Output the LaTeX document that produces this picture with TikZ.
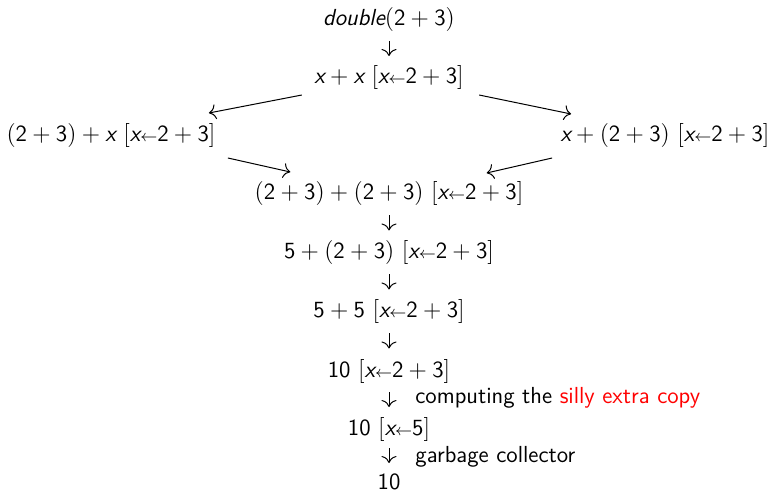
\documentclass[tikz,border=0pt]{standalone}
\usepackage{fontspec}
\usetikzlibrary{calc,arrows.meta}
\def\X{\mbox{\itshape x}}
\def\Sp{\ }
\def\Asg#1{\mathsf{[}\X{\scriptstyle\leftarrow}#1\mathsf{]}}
\def\Tf{\mathsf{(2}+\mathsf{3)}}
\begin{document}
\begin{tikzpicture}[x=0.5pt,y=-0.5pt,
  every node/.style={inner sep=0pt, font=\fontsize{11.6}{13.8}\selectfont\sffamily},
  term/.style={anchor=base},
  lab/.style={anchor=base west},
  arr/.style={-{To[width=7.5pt,length=3.5pt]}, line width=0.5pt}]
\useasboundingbox (0,0) rectangle (770,491);
\node[term] (d)  at (389,26)  {$\mbox{\itshape double}\Tf$};
\node[term] (xx) at (389,84)  {$\X+\X\Sp\Asg{\mathsf{2}+\mathsf{3}}$};
\node[term] (l)  at (111,142) {$\Tf+\X\Sp\Asg{\mathsf{2}+\mathsf{3}}$};
\node[term] (r)  at (665,142) {$\X+\Tf\Sp\Asg{\mathsf{2}+\mathsf{3}}$};
\node[term] (m)  at (389,200) {$\Tf+\Tf\Sp\Asg{\mathsf{2}+\mathsf{3}}$};
\node[term] (f1) at (389,259) {$\mathsf{5}+\Tf\Sp\Asg{\mathsf{2}+\mathsf{3}}$};
\node[term] (f2) at (389,318) {$\mathsf{5}+\mathsf{5}\Sp\Asg{\mathsf{2}+\mathsf{3}}$};
\node[term] (t1) at (389,377) {$\mathsf{10}\Sp\Asg{\mathsf{2}+\mathsf{3}}$};
\node[term] (t2) at (389,435) {$\mathsf{10}\Sp\Asg{\mathsf{5}}$};
\node[term] (t3) at (389,489) {$\mathsf{10}$};
\node[lab] (c1) at (415,403) {computing the \textcolor{red}{silly extra copy}};
\node[lab] (c2) at (415,462) {garbage collector};
\foreach \a/\b in {d/xx,m/f1,f1/f2,f2/t1,t1/t2,t2/t3}
  \draw[arr] ($(\a.base)!0.5!(\b.base)+(0,-14)$) -- ($(\a.base)!0.5!(\b.base)+(0,1)$);
\draw[arr] ($(xx.base west)+(-12,11)$) -- ($(l.base east)+(-7,-29)$);
\draw[arr] ($(xx.base east)+(15,11)$) -- ($(r.base west)+(11,-28)$);
\draw[arr] ($(l.base east)+(12,16)$) -- ($(m.base west)+(36,-28)$);
\draw[arr] ($(r.base west)+(-8,16)$) -- ($(m.base east)+(-37,-27)$);
\end{tikzpicture}
\end{document}
